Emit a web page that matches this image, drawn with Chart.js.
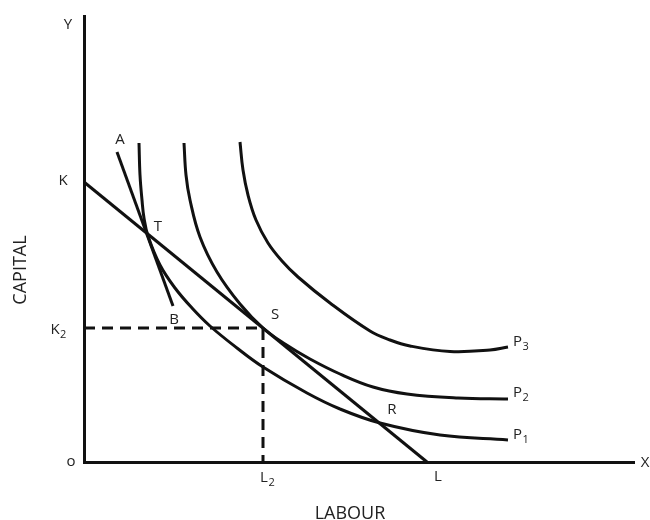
<!DOCTYPE html>
<html>
<head>
<meta charset="utf-8">
<script src="https://cdn.jsdelivr.net/npm/chart.js@4.4.1/dist/chart.umd.min.js"></script>
<style>
  html, body { margin: 0; padding: 0; background: #fff; }
  #wrap { width: 650px; height: 520px; }
</style>
</head>
<body>
<div id="wrap"><canvas id="isoquant-chart" width="650" height="520"></canvas></div>
<script>
// Isoquants P1, P2, P3 : labour (x) and capital (y)
const p1Labour  = [11, 11.2, 11.6, 12, 12.8, 15.2, 18.2, 21.6, 25.2, 30.6, 35.8, 44.6, 51.2, 59.2, 71.2, 84.8];
const p1Capital = [63.8, 57.4, 52.4, 48.8, 45.2, 39.4, 34.8, 30.8, 27.2, 22.8, 19, 13.8, 10.6, 7.8, 5.4, 4.4];

const p2Labour  = [20, 20.4, 21.2, 23.2, 26.6, 31.2, 35.8, 40.2, 45.2, 51.2, 57.8, 64.6, 74.8, 84.8];
const p2Capital = [63.8, 57.4, 52.4, 45, 38, 31.6, 26.8, 23.6, 20.6, 17.6, 15, 13.6, 12.8, 12.6];

const p3Labour  = [31.2, 31.8, 32.8, 34.4, 36.8, 39.6, 42.8, 49.2, 57.2, 61.2, 65.2, 73.2, 81.2, 84.8];
const p3Capital = [64, 58.4, 53.4, 48.4, 43.8, 40.2, 37, 31.8, 26.2, 24.4, 23.2, 22.1, 22.4, 23];

// isocost line KL and the steeper line AB
const klLabour  = [0, 68.6];
const klCapital = [56, 0];
const abLabour  = [6.6, 17.8];
const abCapital = [62, 31.2];

// tangency point S and its coordinates on the axes
const L2 = 35.8;
const K2 = 26.8;
const dashLabour  = [0, L2, L2];
const dashCapital = [K2, K2, 0];

// intersection points
const pointT = [12.8, 45.2];
const pointR = [59.2, 7.8];

const labourMax = 110;
const capitalMax = 89.2;

function toPoints(xs, ys) {
  return xs.map((x, i) => ({ x: x, y: ys[i] }));
}

const INK = '#111';
const TEXT = '#222';

function curve(label, xs, ys) {
  return {
    label: label,
    data: toPoints(xs, ys),
    showLine: true,
    borderColor: INK,
    borderWidth: 3,
    pointRadius: 0,
    tension: 0.4,
    clip: false
  };
}

function straight(label, xs, ys, dash) {
  return {
    label: label,
    data: toPoints(xs, ys),
    showLine: true,
    borderColor: INK,
    borderWidth: 3,
    borderDash: dash || [],
    pointRadius: 0,
    tension: 0,
    clip: false
  };
}

function drawLabel(ctx, main, sub, px, py, align) {
  ctx.font = '15px "Open Sans", sans-serif';
  ctx.textBaseline = 'middle';
  const w = ctx.measureText(main).width;
  const left = align === 'left' ? px : px - w / 2;
  ctx.textAlign = 'left';
  ctx.fillText(main, left, py);
  if (sub) {
    ctx.font = '11px "Open Sans", sans-serif';
    ctx.fillText(sub, left + w + 0.5, py + 5);
  }
}

const textPlugin = {
  id: 'diagramText',
  afterDraw(chart) {
    const { ctx, scales: { x, y } } = chart;
    const px = v => x.getPixelForValue(v);
    const py = v => y.getPixelForValue(v);
    ctx.save();
    ctx.fillStyle = TEXT;

    // axis ends and origin
    drawLabel(ctx, 'Y', null, px(0) - 16, py(capitalMax) + 9);
    drawLabel(ctx, 'X', null, px(labourMax) + 11, py(0) + 1);
    drawLabel(ctx, 'o', null, px(0) - 13, py(0));

    // axis points
    drawLabel(ctx, 'K', null, px(0) - 21, py(klCapital[0]) - 1);
    drawLabel(ctx, 'K', '2', px(0) - 29, py(K2) + 2);
    drawLabel(ctx, 'L', '2', px(L2) + 1, py(0) + 16);
    drawLabel(ctx, 'L', null, px(klLabour[1]) + 11, py(0) + 15);

    // points on the curves
    drawLabel(ctx, 'A', null, px(abLabour[0]) + 3, py(abCapital[0]) - 12);
    drawLabel(ctx, 'B', null, px(abLabour[1]) + 1, py(abCapital[1]) + 14);
    drawLabel(ctx, 'T', null, px(pointT[0]) + 10, py(pointT[1]) - 9);
    drawLabel(ctx, 'S', null, px(L2) + 12, py(K2) - 13);
    drawLabel(ctx, 'R', null, px(pointR[0]) + 12, py(pointR[1]) - 13);

    // curve names
    const n1 = p1Labour.length - 1, n2 = p2Labour.length - 1, n3 = p3Labour.length - 1;
    drawLabel(ctx, 'P', '1', px(p1Labour[n1]) + 5, py(p1Capital[n1]) - 5, 'left');
    drawLabel(ctx, 'P', '2', px(p2Labour[n2]) + 5, py(p2Capital[n2]) - 6, 'left');
    drawLabel(ctx, 'P', '3', px(p3Labour[n3]) + 5, py(p3Capital[n3]) - 5, 'left');

    // axis titles
    ctx.font = '18px "Open Sans", sans-serif';
    ctx.textAlign = 'center';
    ctx.textBaseline = 'middle';
    ctx.fillText('LABOUR', 350, 514);
    ctx.translate(21, 270);
    ctx.rotate(-Math.PI / 2);
    ctx.fillText('CAPITAL', 0, 0);
    ctx.restore();
  }
};

const hiddenAxis = (max) => ({
  type: 'linear',
  min: 0,
  max: max,
  grid: { display: false, drawTicks: false, tickLength: 0 },
  ticks: { display: false },
  border: { display: true, color: INK, width: 3 }
});

new Chart(document.getElementById('isoquant-chart'), {
  type: 'scatter',
  data: {
    datasets: [
      curve('P1', p1Labour, p1Capital),
      curve('P2', p2Labour, p2Capital),
      curve('P3', p3Labour, p3Capital),
      straight('KL', klLabour, klCapital),
      straight('AB', abLabour, abCapital),
      straight('K2 S L2', dashLabour, dashCapital, [11, 7])
    ]
  },
  options: {
    responsive: false,
    animation: false,
    layout: { padding: { left: 84, right: 16, top: 16, bottom: 58 } },
    plugins: { legend: { display: false }, tooltip: { enabled: false } },
    scales: {
      x: hiddenAxis(labourMax),
      y: hiddenAxis(capitalMax)
    }
  },
  plugins: [textPlugin]
});
</script>
</body>
</html>
